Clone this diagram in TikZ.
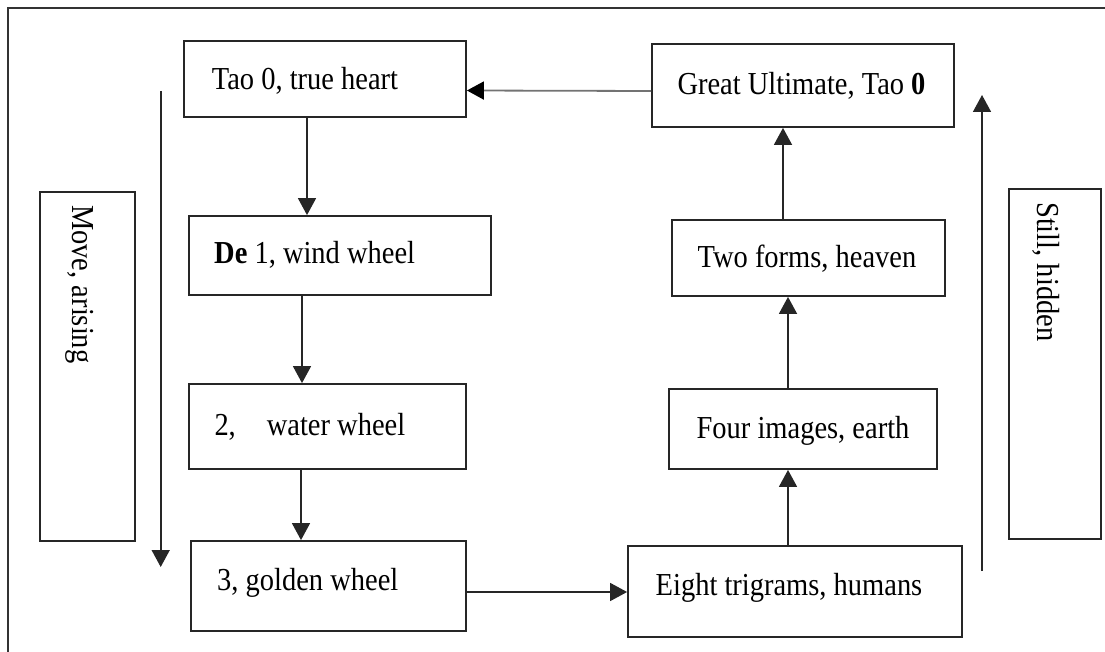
\documentclass[tikz,border=0pt]{standalone}
\usepackage{fontspec}
\setmainfont{Liberation Serif}[FakeStretch=0.89]
\usetikzlibrary{arrows.meta}
\tikzset{
  box/.style={draw=black!85, line width=1.8pt, inner sep=0pt},
  txt/.style={inner sep=0pt, font=\fontsize{32}{38}\selectfont},
  arr/.style={line width=1.6pt, draw=black!85, -{Triangle[length=17pt,width=18pt]}},
  frame/.style={line width=1.2pt, draw=black!80}
}
\begin{document}
\begin{tikzpicture}[x=1pt,y=-1pt]
\useasboundingbox (0,0) rectangle (1105,652);
% outer frame
\coordinate (f1) at (8,652);
\coordinate (f2) at (8,8);
\coordinate (f3) at (1105,8);
\draw[frame] (f1) -- (f2) -- (f3);
% left column boxes
\node[box, minimum width=282pt, minimum height=76pt] (tao) at (325,79) {};
\node[txt, anchor=base west] (taot) at (211.7,90) {Tao 0, true heart};
\node[box, minimum width=302pt, minimum height=79pt] (de) at (340,255.5) {};
\node[txt, anchor=base west] (det) at (214,263.3) {\textbf{De} 1, wind wheel};
\node[box, minimum width=277pt, minimum height=85pt] (water) at (327.5,426.5) {};
\node[txt, anchor=base west] (watert) at (214.3,435) {2,\hspace{31pt}water wheel};
\node[box, minimum width=275pt, minimum height=90pt] (gold) at (328.5,586) {};
\node[txt, anchor=base west] (goldt) at (217,590) {3, golden wheel};
% right column boxes
\node[box, minimum width=302pt, minimum height=83pt] (gu) at (803,85.5) {};
\node[txt, anchor=base] (gut) at (801.5,95) {Great Ultimate, Tao \textbf{0}};
\node[box, minimum width=273pt, minimum height=76pt] (two) at (808.5,258) {};
\node[txt, anchor=base] (twot) at (807,267.7) {Two forms, heaven};
\node[box, minimum width=268pt, minimum height=80pt] (four) at (803,429) {};
\node[txt, anchor=base] (fourt) at (803,438.3) {Four images, earth};
\node[box, minimum width=334pt, minimum height=91pt] (eight) at (795,591.5) {};
\node[txt, anchor=base] (eightt) at (789,595) {Eight trigrams, humans};
% side boxes
\node[box, minimum width=95pt, minimum height=349pt] (move) at (87.5,366.5) {};
\node[txt, anchor=base west, rotate=-90] (movet) at (72.7,205) {Move, arising};
\node[box, minimum width=92pt, minimum height=350pt] (still) at (1055,364) {};
\node[txt, anchor=base west, rotate=-90] (stillt) at (1037,202) {Still, hidden};
% connectors
\draw[arr] ([xshift=-18pt]tao.south) -- ([xshift=-33pt]de.north);
\draw[arr] ([xshift=-38pt]de.south) -- ([xshift=-25.5pt]water.north);
\draw[arr] ([xshift=-26.5pt]water.south) -- ([xshift=-27.5pt]gold.north);
\draw[arr] ([yshift=-6pt]gold.east) -- ([yshift=-0.5pt]eight.west);
\draw[arr] ([xshift=-7pt]eight.north) -- ([xshift=-15pt]four.south);
\draw[arr] ([xshift=-15pt]four.north) -- ([xshift=-20.5pt]two.south);
\draw[arr] ([xshift=-25.5pt]two.north) -- ([xshift=-20pt]gu.south);
\draw[line width=1.8pt, draw=black!55, -{Triangle[length=17pt,width=18pt,color=black,fill=black]}] ([yshift=-5.5pt]gu.west) -- ([yshift=-11.5pt]tao.east);
% side arrows
\coordinate (ma) at (160.7,91);
\coordinate (mb) at (160.7,567);
\draw[arr] (ma) -- (mb);
\coordinate (sa) at (982,571);
\coordinate (sb) at (982,95);
\draw[arr] (sa) -- (sb);
\end{tikzpicture}
\end{document}
